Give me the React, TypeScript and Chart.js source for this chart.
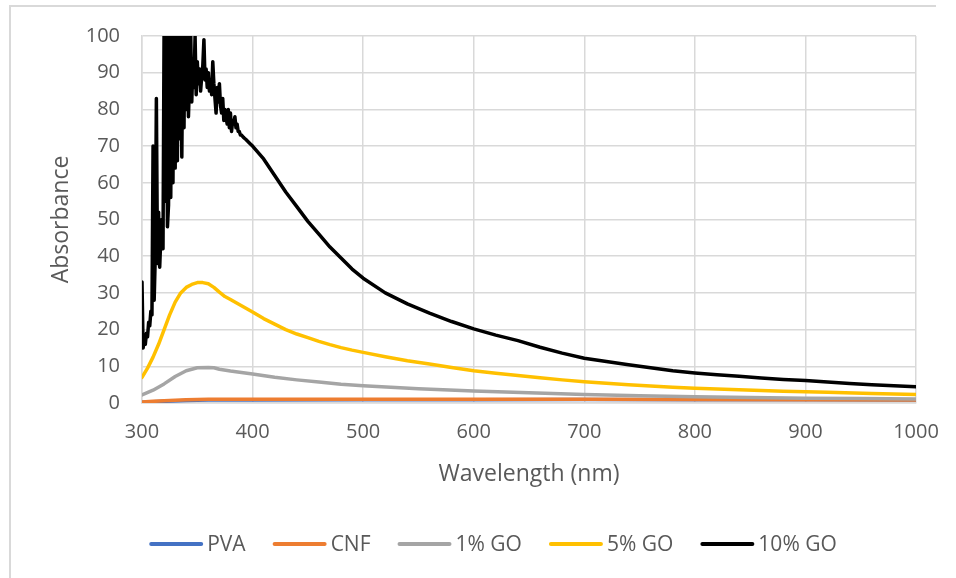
import React, { useEffect, useRef } from "react";
import { Chart, registerables } from "chart.js";

Chart.register(...registerables);

const FONT = "'Open Sans', sans-serif";
const TEXT = "#595959";
const GRID = "#d9d9d9";

const SERIES_LABELS = ["PVA", "CNF", "1% GO", "5% GO", "10% GO"];
const SERIES_COLORS = ["#4472C4", "#ED7D31", "#A5A5A5", "#FFC000", "#000000"];

// Wavelength (nm) / absorbance pairs for each sample
const WL_PVA = [300, 320, 340, 360, 400, 500, 600, 700, 800, 900, 1000];
const PVA = [0.2, 0.45, 0.7, 0.8, 0.85, 0.9, 0.9, 0.95, 0.9, 0.9, 0.85];

const WL_CNF = [300, 310, 320, 330, 340, 350, 360, 400, 500, 600, 700, 800, 900, 1000];
const CNF = [0.3, 0.45, 0.6, 0.75, 0.9, 0.97, 1.0, 1.05, 1.05, 1.0, 1.0, 0.95, 0.9, 0.85];

const WL_GO1 = [300, 310, 320, 330, 340, 350, 360, 365, 370, 380, 390, 400, 420, 440, 460, 480, 500, 550, 600, 650, 700, 750, 800, 850, 900, 950, 1000];
const GO1 = [2.2, 3.5, 5.2, 7.2, 8.8, 9.6, 9.7, 9.6, 9.2, 8.7, 8.3, 7.9, 7.0, 6.3, 5.7, 5.1, 4.7, 3.9, 3.3, 2.8, 2.3, 2.0, 1.7, 1.5, 1.3, 1.2, 1.1];

const WL_GO5 = [300, 305, 310, 315, 320, 325, 330, 335, 340, 345, 350, 355, 360, 365, 370, 375, 380, 390, 400, 410, 420, 430, 440, 450, 460, 470, 480, 490, 500, 520, 540, 560, 580, 600, 620, 640, 660, 680, 700, 720, 740, 760, 780, 800, 840, 880, 920, 960, 1000];
const GO5 = [7.0, 9.5, 12.5, 16.0, 20.0, 24.0, 27.5, 30.0, 31.5, 32.3, 32.8, 32.8, 32.5, 31.5, 30.2, 29.0, 28.2, 26.5, 24.8, 23.0, 21.5, 20.0, 18.8, 17.8, 16.8, 15.9, 15.1, 14.4, 13.8, 12.6, 11.5, 10.6, 9.7, 8.8, 8.1, 7.5, 6.9, 6.3, 5.8, 5.4, 5.0, 4.6, 4.3, 4.0, 3.6, 3.2, 2.9, 2.6, 2.3];

const WL_GO10 = [
  300, 301, 302, 303, 304, 305, 306, 307, 308, 309,
  310, 311, 312, 313, 314, 315, 316, 317, 318, 319,
  320, 321, 322, 323, 324, 325, 326, 327, 328, 329,
  330, 331, 332, 333, 334, 335, 336, 337, 338, 339,
  340, 341, 342, 343, 344, 345, 346, 347, 348, 349,
  350, 351, 352, 353, 354, 355, 356, 357, 358, 359,
  360, 361, 362, 363, 364, 365, 366, 367, 368, 369,
  370, 371, 372, 373, 374, 375, 376, 377, 378, 379,
  380, 381, 382, 383, 384, 385, 386, 387, 388, 389,
  390, 392, 394, 396, 398, 400, 410, 420, 430, 440,
  450, 460, 470, 480, 490, 500, 520, 540, 560, 580,
  600, 620, 640, 660, 680, 700, 720, 740, 760, 780,
  800, 820, 840, 860, 880, 900, 920, 940, 960, 980, 1000,
];
const GO10 = [
  33, 15, 17, 16, 19, 18, 22, 21, 25, 24,
  70, 28, 40, 83, 38, 52, 37, 45, 50, 42,
  104, 55, 108, 48, 54, 110, 56, 102, 60, 106,
  64, 115, 66, 103, 72, 108, 67, 101, 75, 112,
  80, 104, 78, 88, 102, 82, 92, 86, 100, 84,
  93, 87, 91, 85, 89, 92, 99, 88, 91, 86,
  90, 85, 88, 84, 93, 87, 83, 79, 86, 82,
  87, 81, 79, 83, 77, 80, 78, 76, 80, 75,
  79, 74, 77, 76, 78, 75, 76, 74, 74, 73,
  73, 72.3, 71.8, 71.2, 70.6, 70, 66.5, 62, 57.5, 53.5,
  49.5, 46, 42.5, 39.5, 36.5, 34, 30, 27, 24.5, 22.2,
  20.2, 18.5, 17, 15.2, 13.6, 12.2, 11.3, 10.4, 9.6, 8.8,
  8.2, 7.7, 7.3, 6.8, 6.4, 6.1, 5.7, 5.3, 5.0, 4.7, 4.4,
];

const X_MIN = 300;
const X_MAX = 1000;
const X_STEP = 100;
const Y_MIN = 0;
const Y_MAX = 100;
const Y_STEP = 10;

const toPoints = (xs: number[], ys: number[]) => xs.map((x, i) => ({ x, y: ys[i] }));

const SERIES = [
  toPoints(WL_PVA, PVA),
  toPoints(WL_CNF, CNF),
  toPoints(WL_GO1, GO1),
  toPoints(WL_GO5, GO5),
  toPoints(WL_GO10, GO10),
];

// Light frame around the chart (top and left edges)
const framePlugin = {
  id: "frame",
  beforeDraw(chart: any) {
    const { ctx } = chart;
    ctx.save();
    ctx.strokeStyle = GRID;
    ctx.lineWidth = 2;
    ctx.beginPath();
    ctx.moveTo(10, 578);
    ctx.lineTo(10, 6);
    ctx.lineTo(936, 6);
    ctx.stroke();
    ctx.restore();
  },
};

// Legend row beneath the axis title
const legendPlugin = {
  id: "bottomLegend",
  afterDraw(chart: any) {
    const { ctx } = chart;
    const datasets = chart.data.datasets;
    ctx.save();
    ctx.font = `21px ${FONT}`;
    ctx.textBaseline = "middle";
    ctx.textAlign = "left";
    const lineW = 54;
    const textGap = 4;
    const itemGap = 27;
    const widths = datasets.map((d: any) => ctx.measureText(d.label).width);
    const total =
      widths.reduce((s: number, w: number) => s + lineW + textGap + w, 0) +
      itemGap * (datasets.length - 1);
    let x = 493 - total / 2;
    const y = 544;
    datasets.forEach((d: any, i: number) => {
      ctx.strokeStyle = d.borderColor;
      ctx.lineWidth = 4;
      ctx.lineCap = "round";
      ctx.beginPath();
      ctx.moveTo(x + 2, y);
      ctx.lineTo(x + lineW - 2, y);
      ctx.stroke();
      x += lineW + textGap;
      ctx.fillStyle = TEXT;
      ctx.fillText(d.label, x, y + 1);
      x += widths[i] + itemGap;
    });
    ctx.restore();
  },
};

export default function App() {
  const canvasRef = useRef<HTMLCanvasElement>(null);

  useEffect(() => {
    const canvas = canvasRef.current;
    if (!canvas) return;
    const chart = new Chart(canvas, {
      type: "line",
      data: {
        datasets: SERIES.map((pts, i) => ({
          label: SERIES_LABELS[i],
          data: pts,
          borderColor: SERIES_COLORS[i],
          backgroundColor: SERIES_COLORS[i],
          borderWidth: 3.5,
          pointRadius: 0,
          tension: 0,
          fill: false,
          borderJoinStyle: "round" as const,
          borderCapStyle: "round" as const,
          order: SERIES.length - 1 - i,
        })),
      },
      options: {
        responsive: false,
        animation: false,
        events: [],
        layout: { padding: { top: 36, left: 0, right: 40, bottom: 75 } },
        plugins: {
          legend: { display: false },
          tooltip: { enabled: false },
        },
        scales: {
          x: {
            type: "linear",
            min: X_MIN,
            max: X_MAX,
            ticks: {
              stepSize: X_STEP,
              color: TEXT,
              font: { family: FONT, size: 20 },
              padding: 17,
              maxRotation: 0,
              callback: (v: any) => String(v),
            },
            grid: { color: GRID, lineWidth: 1.5, drawTicks: false },
            border: { color: GRID, width: 1.5 },
            title: {
              display: true,
              text: "Wavelength (nm)",
              color: TEXT,
              font: { family: FONT, size: 23 },
              padding: { top: 0, bottom: 15 },
            },
            afterFit: (scale: any) => {
              scale.height = 100;
            },
          },
          y: {
            type: "linear",
            min: Y_MIN,
            max: Y_MAX,
            ticks: {
              stepSize: Y_STEP,
              color: TEXT,
              font: { family: FONT, size: 20 },
              padding: 22,
              callback: (v: any) => String(v),
            },
            grid: { color: GRID, lineWidth: 1.5, drawTicks: false },
            border: { color: GRID, width: 1.5 },
            title: {
              display: true,
              text: "Absorbance",
              color: TEXT,
              font: { family: FONT, size: 23 },
              padding: { top: 48, bottom: 0 },
            },
            afterFit: (scale: any) => {
              scale.width = 142;
            },
          },
        },
      },
      plugins: [framePlugin, legendPlugin],
    });
    return () => chart.destroy();
  }, []);

  return (
    <div
      style={{
        position: "fixed",
        left: 0,
        top: 0,
        width: 956,
        height: 578,
        background: "#ffffff",
      }}
    >
      <canvas
        ref={canvasRef}
        width={956}
        height={578}
        style={{ display: "block", width: 956, height: 578 }}
      />
    </div>
  );
}
